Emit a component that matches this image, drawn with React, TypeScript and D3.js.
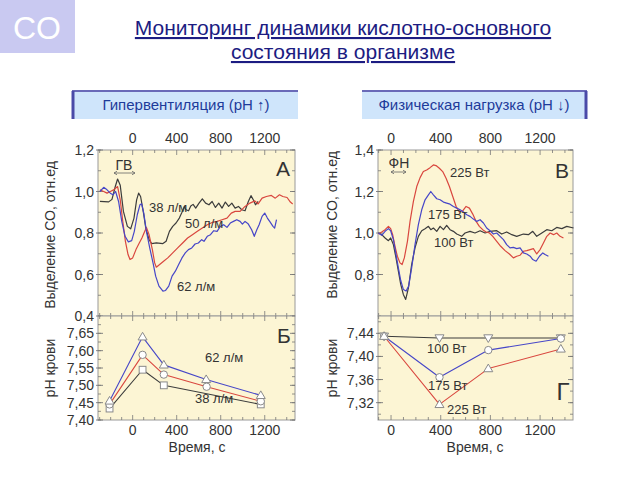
import React from "react";
import * as d3 from "d3";

// ---------- DATA ----------
const timeTicks = [0, 400, 800, 1200];
const co2TicksA = [0.4, 0.6, 0.8, 1.0, 1.2];
const phTicksB = [7.4, 7.45, 7.5, 7.55, 7.6, 7.65];
const co2TicksV = [0.8, 1.0, 1.2, 1.4];
const phTicksG = [7.32, 7.36, 7.4, 7.44];

// Panel A: CO2 output, hyperventilation
const co2Hv38: [number, number][] = [[-298,0.952],[-218,0.95],[-188,0.962],[-158,1.024],[-137,1.06],[-113,1.03],[-84,0.904],[-48,0.832],[-18,0.82],[12,0.872],[36,0.96],[54,0.992],[72,0.976],[96,0.904],[119,0.824],[149,0.768],[173,0.749],[215,0.752],[275,0.749],[304,0.76],[334,0.808],[364,0.832],[394,0.848],[424,0.872],[448,0.9],[469,0.928],[484,0.912],[508,0.907],[528,0.93],[549,0.938],[573,0.92],[603,0.944],[633,0.965],[663,0.944],[693,0.936],[722,0.952],[752,0.923],[782,0.944],[812,0.92],[842,0.949],[872,0.928],[901,0.944],[931,0.92],[961,0.928],[991,0.912],[1021,0.907],[1051,0.952],[1075,0.98],[1096,0.96],[1116,0.936],[1140,0.952]];
const co2Hv50: [number, number][] = [[-298,1.008],[-263,1.0],[-233,0.992],[-203,1.0],[-173,1.008],[-137,1.024],[-113,0.96],[-90,0.856],[-66,0.76],[-42,0.696],[-24,0.672],[0,0.68],[30,0.72],[60,0.752],[84,0.776],[110,0.808],[125,0.827],[149,0.792],[179,0.72],[200,0.656],[215,0.635],[245,0.648],[281,0.664],[319,0.68],[364,0.704],[409,0.728],[454,0.752],[499,0.776],[543,0.792],[588,0.808],[633,0.824],[678,0.84],[722,0.851],[767,0.856],[812,0.864],[857,0.872],[896,0.896],[931,0.904],[976,0.904],[1021,0.928],[1066,0.944],[1110,0.955],[1140,0.94],[1176,0.968],[1215,0.976],[1260,0.981],[1296,0.968],[1334,0.984],[1364,0.976],[1403,0.971],[1433,0.949],[1454,0.94]];
const co2Hv62: [number, number][] = [[-298,1.0],[-263,1.02],[-233,1.008],[-203,0.992],[-179,0.984],[-155,1.0],[-128,0.952],[-99,0.856],[-69,0.784],[-39,0.757],[-9,0.763],[15,0.808],[42,0.888],[66,0.936],[81,0.941],[101,0.896],[125,0.808],[155,0.728],[185,0.656],[209,0.592],[239,0.544],[275,0.52],[299,0.523],[328,0.544],[358,0.592],[388,0.616],[418,0.648],[448,0.68],[478,0.704],[507,0.72],[537,0.728],[567,0.747],[597,0.752],[627,0.768],[648,0.76],[678,0.784],[707,0.792],[737,0.811],[767,0.808],[797,0.832],[827,0.84],[857,0.827],[887,0.848],[916,0.856],[946,0.864],[976,0.856],[997,0.843],[1021,0.856],[1051,0.843],[1081,0.816],[1105,0.784],[1128,0.816],[1149,0.84],[1176,0.88],[1200,0.896],[1224,0.872],[1245,0.856],[1275,0.832],[1290,0.824],[1307,0.864]];

// Panel Б: blood pH, hyperventilation
const phHv62: [number, number][] = [[-210,7.455],[90,7.64],[283,7.559],[668,7.517],[1164,7.471]];
const phHv50: [number, number][] = [[-210,7.445],[90,7.588],[283,7.531],[672,7.496],[1164,7.454]];
const phHv38: [number, number][] = [[-210,7.433],[90,7.545],[283,7.5],[1164,7.445]];

// Panel В: CO2 output, exercise
const co2Fn100: [number, number][] = [[-102,1.0],[-75,0.992],[-48,0.976],[-21,0.963],[-3,0.976],[19,0.944],[40,0.88],[59,0.816],[78,0.752],[99,0.704],[118,0.68],[140,0.736],[166,0.848],[193,0.928],[220,0.984],[247,1.011],[274,1.021],[301,1.032],[320,1.016],[341,1.024],[368,1.008],[395,1.032],[422,1.016],[448,1.037],[475,1.016],[502,1.008],[529,0.995],[569,0.984],[596,1.0],[636,1.008],[676,1.0],[717,1.011],[757,1.0],[797,1.008],[851,1.011],[891,0.995],[931,1.005],[972,0.992],[1012,0.984],[1066,0.995],[1106,0.992],[1141,1.008],[1173,0.984],[1214,1.0],[1254,1.016],[1294,1.011],[1334,1.027],[1375,1.021],[1415,1.032],[1469,1.024]];
const co2Fn175: [number, number][] = [[-102,1.0],[-75,0.989],[-48,1.008],[-21,1.021],[-3,1.011],[19,0.968],[40,0.896],[59,0.832],[78,0.771],[99,0.728],[121,0.72],[142,0.744],[166,0.832],[193,0.944],[220,1.04],[247,1.112],[274,1.16],[301,1.184],[320,1.2],[341,1.184],[368,1.165],[395,1.16],[422,1.149],[448,1.144],[475,1.139],[502,1.128],[529,1.12],[556,1.112],[583,1.101],[610,1.088],[636,1.08],[663,1.067],[690,1.056],[717,1.064],[744,1.048],[770,1.024],[797,1.011],[824,0.995],[851,1.0],[878,0.984],[905,0.968],[931,0.944],[958,0.928],[985,0.931],[1012,0.925],[1039,0.928],[1066,0.904],[1093,0.899],[1120,0.888],[1141,0.872],[1168,0.864],[1195,0.888],[1222,0.904],[1240,0.896],[1267,0.888]];
const co2Fn225: [number, number][] = [[-102,0.995],[-75,1.005],[-48,1.016],[-21,1.032],[-3,1.021],[13,0.992],[32,0.936],[51,0.888],[72,0.856],[89,0.848],[107,0.88],[132,0.96],[153,1.056],[180,1.152],[207,1.224],[234,1.267],[260,1.296],[287,1.304],[314,1.315],[341,1.328],[362,1.325],[389,1.312],[416,1.296],[443,1.264],[470,1.224],[497,1.176],[524,1.128],[550,1.101],[577,1.107],[604,1.128],[631,1.12],[658,1.091],[685,1.056],[711,1.032],[738,1.016],[765,1.005],[792,1.0],[819,0.984],[851,0.96],[883,0.936],[918,0.915],[953,0.899],[985,0.88],[1012,0.888],[1039,0.893],[1066,0.912],[1093,0.915],[1120,0.92],[1146,0.925],[1173,0.899],[1200,0.92],[1227,0.952],[1254,0.984],[1281,1.0],[1308,0.992],[1334,1.0],[1361,0.984],[1388,0.976]];

// Panel Г: blood pH, exercise
const phFn100: [number, number][] = [[-56,7.435],[390,7.432],[783,7.432],[1367,7.432]];
const phFn175: [number, number][] = [[-56,7.435],[390,7.364],[783,7.411],[1367,7.431]];
const phFn225: [number, number][] = [[-56,7.435],[390,7.317],[783,7.379],[1367,7.413]];

// ---------- STYLE ----------
const FONT = "'Liberation Sans', Arial, sans-serif";
const BG = "#fcf5d4";
const FRAME = "#9a9a9a";
const TXT = "#333";
const BLACK = "#3c3c3c";
const RED = "#d9473f";
const BLUE = "#4646c8";

const fmt1 = (v: number) => d3.format(".1f")(v).replace(".", ",");
const fmt2 = (v: number) => d3.format(".2f")(v).replace(".", ",");

type Sc = d3.ScaleLinear<number, number>;

function Frame({ x, y }: { x: Sc; y: Sc }) {
  const [x0, x1] = x.range();
  const [y0, y1] = y.range();
  const minor = d3.range(-300, 1500, 100).filter((t) => t >= x.domain()[0] && t <= x.domain()[1]);
  return (
    <g>
      <rect x={x0} y={y1} width={x1 - x0} height={y0 - y1} fill={BG} stroke={FRAME} strokeWidth={1} />
      {minor.map((t) => {
        const len = t % 400 === 0 ? 5 : 3;
        return (
          <g key={t} stroke="#777" strokeWidth={0.8}>
            <line x1={x(t)} x2={x(t)} y1={y1} y2={y1 + len} />
            <line x1={x(t)} x2={x(t)} y1={y0} y2={y0 - len} />
          </g>
        );
      })}
    </g>
  );
}

function YTicks({ x, y, ticks, f, minorStep }: { x: Sc; y: Sc; ticks: number[]; f: (v: number) => string; minorStep: number }) {
  const [x0, x1] = x.range();
  const [lo, hi] = y.domain();
  const minors = d3.range(Math.ceil(lo / minorStep - 1e-6) * minorStep, hi + 1e-9, minorStep);
  return (
    <g>
      {minors.map((v, i) => (
        <g key={i} stroke="#777" strokeWidth={0.8}>
          <line x1={x0} x2={x0 + 3} y1={y(v)} y2={y(v)} />
          <line x1={x1} x2={x1 - 3} y1={y(v)} y2={y(v)} />
        </g>
      ))}
      {ticks.map((v) => (
        <g key={v}>
          <line x1={x0 - 2} x2={x0 + 5} y1={y(v)} y2={y(v)} stroke="#777" strokeWidth={0.9} />
          <line x1={x1} x2={x1 - 5} y1={y(v)} y2={y(v)} stroke="#777" strokeWidth={0.9} />
          <text x={x0 - 4} y={y(v)} dy="0.36em" textAnchor="end" fontSize={14} fill={TXT} fontFamily={FONT}>
            {f(v)}
          </text>
        </g>
      ))}
    </g>
  );
}

function XLabels({ x, yPos }: { x: Sc; yPos: number }) {
  return (
    <g>
      {timeTicks.map((t) => (
        <text key={t} x={x(t)} y={yPos} textAnchor="middle" fontSize={14} fill={TXT} fontFamily={FONT}>
          {t}
        </text>
      ))}
    </g>
  );
}

function Curve({ data, x, y, color, w = 1.2 }: { data: [number, number][]; x: Sc; y: Sc; color: string; w?: number }) {
  const gen = d3.line<[number, number]>().x((d) => x(d[0])).y((d) => y(d[1])).curve(d3.curveLinear);
  return <path d={gen(data) || ""} fill="none" stroke={color} strokeWidth={w} strokeLinejoin="round" />;
}

function Markers({ data, x, y, shape }: { data: [number, number][]; x: Sc; y: Sc; shape: "tri" | "itri" | "circ" | "sq" }) {
  return (
    <g>
      {data.map((d, i) => {
        const cx = x(d[0]);
        const cy = y(d[1]);
        const st = { fill: "#fff", stroke: "#8a8a8a", strokeWidth: 1 };
        if (shape === "circ") return <circle key={i} cx={cx} cy={cy} r={3.7} {...st} />;
        if (shape === "sq") return <rect key={i} x={cx - 3.4} y={cy - 3.4} width={6.8} height={6.8} {...st} />;
        const s = 4.5;
        const pts = shape === "tri"
          ? `${cx},${cy - s} ${cx + s},${cy + s * 0.7} ${cx - s},${cy + s * 0.7}`
          : `${cx},${cy + s} ${cx + s},${cy - s * 0.7} ${cx - s},${cy - s * 0.7}`;
        return <polygon key={i} points={pts} {...st} />;
      })}
    </g>
  );
}

function Label({ x, y, children, size = 13, anchor = "start" }: { x: number; y: number; children: React.ReactNode; size?: number; anchor?: string }) {
  return (
    <text x={x} y={y} fontSize={size} fill={TXT} fontFamily={FONT} textAnchor={anchor as any}>
      {children}
    </text>
  );
}

function DoubleArrow({ x1, x2, y }: { x1: number; x2: number; y: number }) {
  return (
    <g stroke="#666" strokeWidth={0.8} fill="none">
      <line x1={x1} x2={x2} y1={y} y2={y} />
      <polyline points={`${x1 + 3},${y - 1.8} ${x1},${y} ${x1 + 3},${y + 1.8}`} />
      <polyline points={`${x2 - 3},${y - 1.8} ${x2},${y} ${x2 - 3},${y + 1.8}`} />
    </g>
  );
}

export default function App() {
  const xL = d3.scaleLinear().domain([-315, 1475]).range([98, 295]);
  const yA = d3.scaleLinear().domain([0.4, 1.2]).range([316, 150]);
  const yB = d3.scaleLinear().domain([7.4, 7.7]).range([420, 316]);
  const xR = d3.scaleLinear().domain([-105, 1465]).range([378, 573]);
  const yV = d3.scaleLinear().domain([0.6, 1.4]).range([316, 150]);
  const yG = d3.scaleLinear().domain([7.29, 7.47]).range([420, 316]);

  return (
    <svg width={640} height={480} style={{ display: "block", position: "absolute", left: 0, top: 0, background: "#fff" }}>
      <rect x={0} y={0} width={640} height={480} fill="#fff" />
      {/* CO badge */}
      <rect x={0} y={0} width={75} height={53} fill="#c9c9f1" />
      <text x={37} y={39} textAnchor="middle" fontSize={32} fill="#fff" fontFamily={FONT}>CO</text>

      {/* Title */}
      <g fontFamily={FONT} fontSize={21} fill="#1c1c82" textAnchor="middle" textDecoration="underline">
        <text x={343} y={35}>Мониторинг динамики кислотно-основного</text>
        <text x={343} y={59}>состояния в организме</text>
      </g>

      {/* Buttons */}
      <g>
        <rect x={72} y={91} width={226} height={28} fill="#cfe5fb" />
        <line x1={72} x2={298} y1={91} y2={91} stroke="#6a6ab8" strokeWidth={2} />
        <line x1={73} x2={73} y1={91} y2={119} stroke="#4a4aa8" strokeWidth={3} />
        <text x={186} y={110} textAnchor="middle" fontSize={15} fill="#1e3b9a" fontFamily={FONT}>Гипервентиляция (pH ↑)</text>

        <rect x={362} y={91} width={225} height={28} fill="#cfe5fb" />
        <line x1={362} x2={587} y1={91} y2={91} stroke="#6a6ab8" strokeWidth={2} />
        <line x1={586} x2={586} y1={91} y2={119} stroke="#4a4aa8" strokeWidth={3} />
        <text x={474} y={110} textAnchor="middle" fontSize={15} fill="#1e3b9a" fontFamily={FONT}>Физическая нагрузка (pH ↓)</text>
      </g>

      {/* ===== Panel A ===== */}
      <Frame x={xL} y={yA} />
      <YTicks x={xL} y={yA} ticks={co2TicksA} f={fmt1} minorStep={0.1} />
      <XLabels x={xL} yPos={143} />
      <Curve data={co2Hv38} x={xL} y={yA} color={BLACK} />
      <Curve data={co2Hv50} x={xL} y={yA} color={RED} />
      <Curve data={co2Hv62} x={xL} y={yA} color={BLUE} />
      <Label x={124} y={170} size={14} anchor="middle">ГВ</Label>
      <DoubleArrow x1={114} x2={135} y={173} />
      <Label x={283} y={176} size={21} anchor="middle">А</Label>
      <Label x={149} y={212}>38 л/м</Label>
      <Label x={185} y={228}>50 л/м</Label>
      <Label x={177} y={291}>62 л/м</Label>

      {/* ===== Panel Б ===== */}
      <Frame x={xL} y={yB} />
      <YTicks x={xL} y={yB} ticks={phTicksB} f={fmt2} minorStep={0.025} />
      <Curve data={phHv38} x={xL} y={yB} color={BLACK} w={1.1} />
      <Curve data={phHv50} x={xL} y={yB} color={RED} w={1.1} />
      <Curve data={phHv62} x={xL} y={yB} color={BLUE} w={1.1} />
      <Markers data={phHv38} x={xL} y={yB} shape="sq" />
      <Markers data={phHv50} x={xL} y={yB} shape="circ" />
      <Markers data={phHv62} x={xL} y={yB} shape="tri" />
      <Label x={205} y={362}>62 л/м</Label>
      <Label x={195} y={403}>38 л/м</Label>
      <Label x={284} y={343} size={21} anchor="middle">Б</Label>
      <XLabels x={xL} yPos={435} />
      <Label x={197} y={452} size={14} anchor="middle">Время, с</Label>
      <text transform="translate(55,235) rotate(-90)" textAnchor="middle" fontSize={14} fill={TXT} fontFamily={FONT}>Выделение СО, отн.ед</text>
      <text transform="translate(55,368) rotate(-90)" textAnchor="middle" fontSize={14} fill={TXT} fontFamily={FONT}>pH крови</text>

      {/* ===== Panel В ===== */}
      <Frame x={xR} y={yV} />
      <YTicks x={xR} y={yV} ticks={co2TicksV} f={fmt1} minorStep={0.1} />
      <XLabels x={xR} yPos={143} />
      <Curve data={co2Fn100} x={xR} y={yV} color={BLACK} />
      <Curve data={co2Fn225} x={xR} y={yV} color={RED} />
      <Curve data={co2Fn175} x={xR} y={yV} color={BLUE} />
      <Label x={399} y={168} size={14} anchor="middle">ФН</Label>
      <DoubleArrow x1={391} x2={406} y={172} />
      <Label x={562} y={178} size={21} anchor="middle">В</Label>
      <Label x={450} y={177}>225 Вт</Label>
      <Label x={428} y={219}>175 Вт</Label>
      <Label x={434} y={247}>100 Вт</Label>
      <text transform="translate(337,225) rotate(-90)" textAnchor="middle" fontSize={14} fill={TXT} fontFamily={FONT}>Выделение СО, отн.ед</text>

      {/* ===== Panel Г ===== */}
      <Frame x={xR} y={yG} />
      <YTicks x={xR} y={yG} ticks={phTicksG} f={fmt2} minorStep={0.02} />
      <Curve data={phFn100} x={xR} y={yG} color={BLACK} w={1.1} />
      <Curve data={phFn175} x={xR} y={yG} color={BLUE} w={1.1} />
      <Curve data={phFn225} x={xR} y={yG} color={RED} w={1.1} />
      <Markers data={phFn100} x={xR} y={yG} shape="itri" />
      <Markers data={phFn175} x={xR} y={yG} shape="circ" />
      <Markers data={phFn225} x={xR} y={yG} shape="tri" />
      <Label x={427} y={353}>100 Вт</Label>
      <Label x={428} y={390}>175 Вт</Label>
      <Label x={447} y={414}>225 Вт</Label>
      <Label x={563} y={400} size={24} anchor="middle">Г</Label>
      <XLabels x={xR} yPos={435} />
      <Label x={475} y={452} size={14} anchor="middle">Время, с</Label>
      <text transform="translate(337,368) rotate(-90)" textAnchor="middle" fontSize={14} fill={TXT} fontFamily={FONT}>pH крови</text>
    </svg>
  );
}
